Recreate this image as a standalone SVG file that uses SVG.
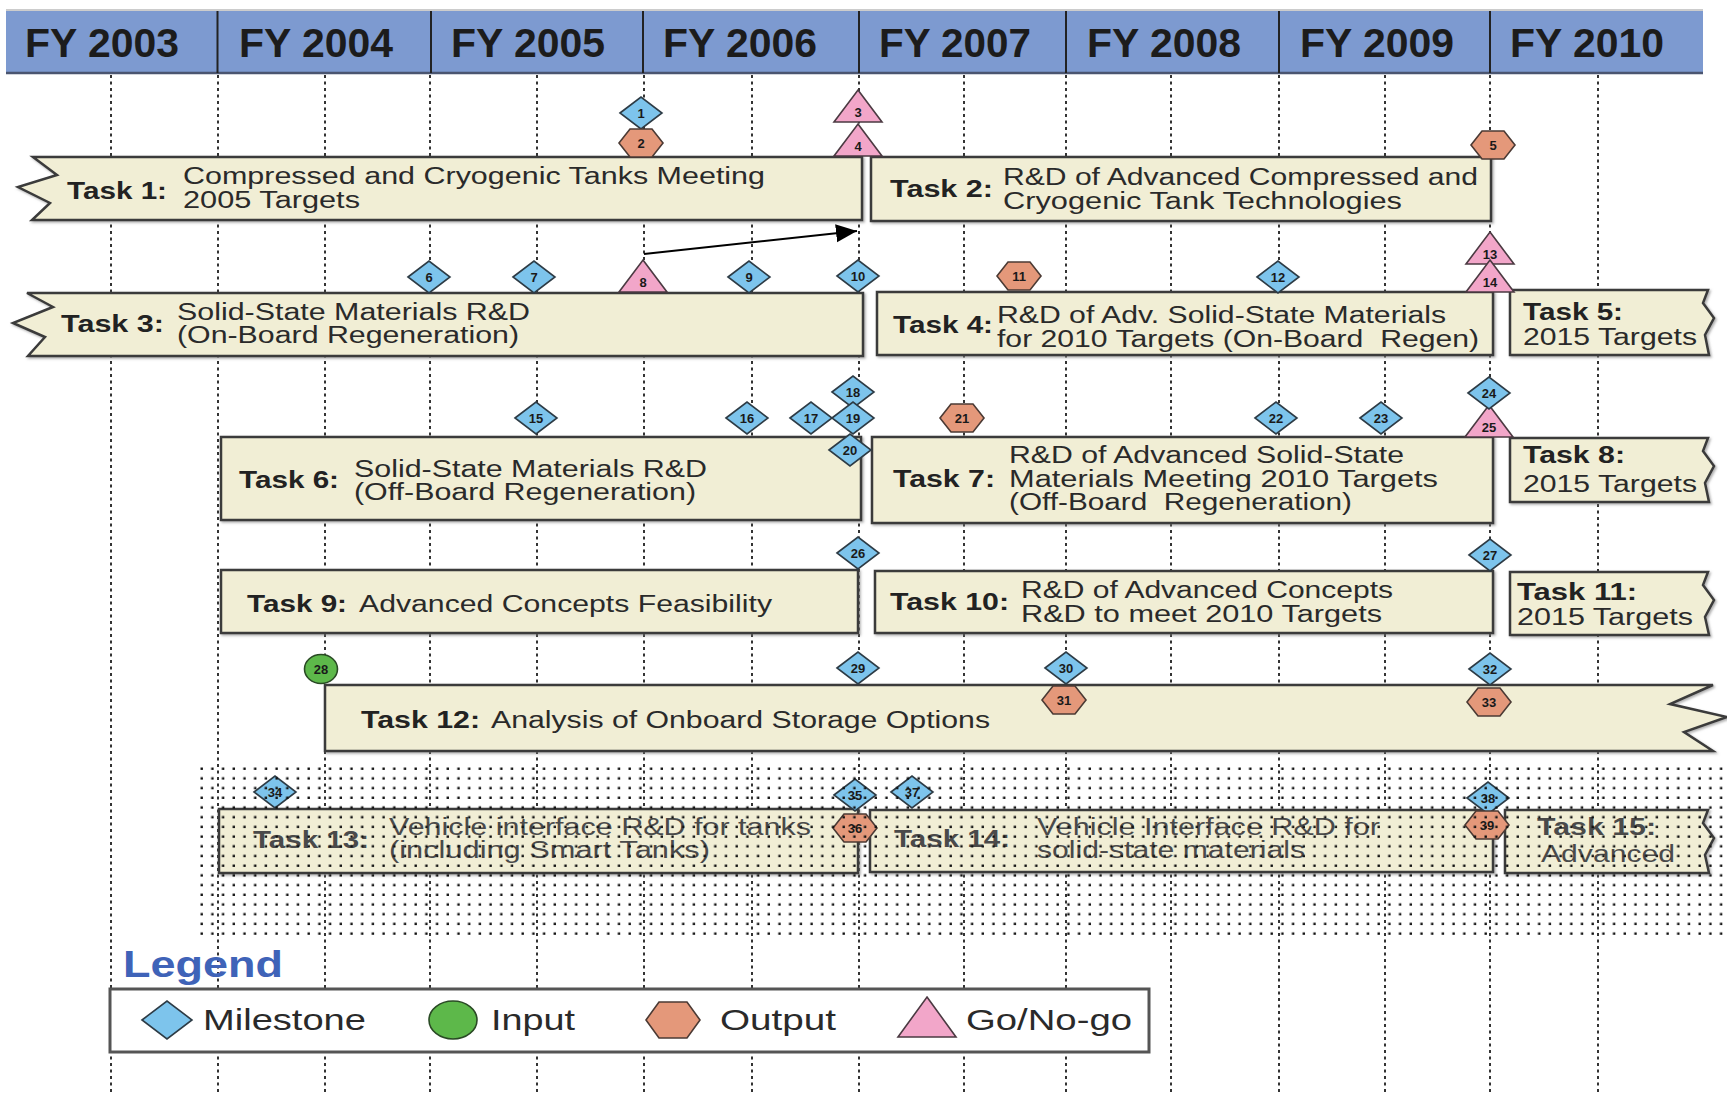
<svg xmlns="http://www.w3.org/2000/svg" width="1727" height="1094" viewBox="0 0 1727 1094">
<defs>
<style>
.hdr{fill:#7d9ad0}
.fy{font-family:"Liberation Sans Narrow","Liberation Sans",Arial,sans-serif;font-weight:bold;font-size:41px;fill:#1c1c1c}
.grid line{stroke:#333;stroke-width:2;stroke-dasharray:3 3.5}
.box{fill:#f1eed5;stroke:#3a3a3a;stroke-width:2.5;filter:url(#sh)}
.lb{font-family:"Liberation Sans",Arial,sans-serif;font-weight:bold;font-size:23px;fill:#222}
.tx{font-family:"Liberation Sans",Arial,sans-serif;font-size:23px;fill:#2a2a2a}
.dim .lb,.dim .tx{fill:#4a4a4a}
.ms{fill:#7dc4ec;stroke:#2d3b45;stroke-width:1.6}
.out{fill:#e4987a;stroke:#4b3a34;stroke-width:1.6}
.gng{fill:#f2a6c9;stroke:#4b3a42;stroke-width:1.6}
.inp{fill:#5db84a;stroke:#2a4a25;stroke-width:1.6}
.num{font-family:"Liberation Sans",Arial,sans-serif;font-weight:bold;font-size:13px;fill:#1a1a1a;text-anchor:middle}
.lg{font-family:"Liberation Sans",Arial,sans-serif;font-size:30px;fill:#2a2a2a}
</style>
<filter id="sh" x="-2%" y="-10%" width="105%" height="125%">
<feDropShadow dx="1.5" dy="1.5" stdDeviation="1" flood-color="#777" flood-opacity="0.6"/>
</filter>
<polygon id="dia" points="-21,0 0,-16 21,0 0,16"/>
<polygon id="hex" points="-22,0 -11,-14 11,-14 22,0 11,14 -11,14"/>
<polygon id="tri" points="0,0 24,32 -24,32"/>
<marker id="ah" markerUnits="userSpaceOnUse" markerWidth="22" markerHeight="20" refX="21" refY="9" orient="auto">
<path d="M0,0 L21,9 L0,18 Z" fill="#000"/>
</marker>
<pattern id="dots" patternUnits="userSpaceOnUse" x="200" y="767" width="10.7" height="9.7">
<rect x="0.5" y="0.5" width="2.4" height="2.4" fill="#111"/>
</pattern>
</defs>

<rect width="1727" height="1094" fill="#fff"/>

<g id="header">
<line x1="6" y1="10" x2="1703" y2="10" stroke="#bbb" stroke-width="1.5"/>
<rect class="hdr" x="6" y="11" width="1697" height="62"/>
<line x1="6" y1="73" x2="1703" y2="73" stroke="#4a5570" stroke-width="2.5"/>
<g stroke="#222" stroke-width="2">
<line x1="217.5" y1="11" x2="217.5" y2="73"/>
<line x1="431" y1="11" x2="431" y2="73"/>
<line x1="643" y1="11" x2="643" y2="73"/>
<line x1="859" y1="11" x2="859" y2="73"/>
<line x1="1066" y1="11" x2="1066" y2="73"/>
<line x1="1279" y1="11" x2="1279" y2="73"/>
<line x1="1490" y1="11" x2="1490" y2="73"/>
</g>
<text class="fy" x="25" y="57" textLength="154" lengthAdjust="spacingAndGlyphs">FY 2003</text>
<text class="fy" x="239" y="57" textLength="154" lengthAdjust="spacingAndGlyphs">FY 2004</text>
<text class="fy" x="451" y="57" textLength="154" lengthAdjust="spacingAndGlyphs">FY 2005</text>
<text class="fy" x="663" y="57" textLength="154" lengthAdjust="spacingAndGlyphs">FY 2006</text>
<text class="fy" x="879" y="57" textLength="152" lengthAdjust="spacingAndGlyphs">FY 2007</text>
<text class="fy" x="1087" y="57" textLength="154" lengthAdjust="spacingAndGlyphs">FY 2008</text>
<text class="fy" x="1300" y="57" textLength="154" lengthAdjust="spacingAndGlyphs">FY 2009</text>
<text class="fy" x="1510" y="57" textLength="154" lengthAdjust="spacingAndGlyphs">FY 2010</text>
</g>

<g id="grid" class="grid">
<line x1="111" y1="75" x2="111" y2="1094"/>
<line x1="218" y1="75" x2="218" y2="1094"/>
<line x1="325" y1="75" x2="325" y2="1094"/>
<line x1="430" y1="75" x2="430" y2="1094"/>
<line x1="537" y1="75" x2="537" y2="1094"/>
<line x1="644" y1="75" x2="644" y2="1094"/>
<line x1="752" y1="75" x2="752" y2="1094"/>
<line x1="859" y1="75" x2="859" y2="1094"/>
<line x1="964" y1="75" x2="964" y2="1094"/>
<line x1="1066" y1="75" x2="1066" y2="1094"/>
<line x1="1171" y1="75" x2="1171" y2="1094"/>
<line x1="1279" y1="75" x2="1279" y2="1094"/>
<line x1="1385" y1="75" x2="1385" y2="1094"/>
<line x1="1490" y1="75" x2="1490" y2="1094"/>
<line x1="1598" y1="75" x2="1598" y2="1094"/>
</g>

<g id="task1">
<path class="box" d="M33,157 L862,157 L862,220 L32,220 L50,203 L18,187 L57,175 Z"/>
<text class="lb" x="67" y="199" textLength="100" lengthAdjust="spacingAndGlyphs">Task 1:</text>
<text class="tx" x="183" y="184" textLength="582" lengthAdjust="spacingAndGlyphs">Compressed and Cryogenic Tanks Meeting</text>
<text class="tx" x="183" y="208" textLength="177" lengthAdjust="spacingAndGlyphs">2005 Targets</text>
</g>
<g id="task2">
<rect class="box" x="871" y="157" width="620" height="64"/>
<text class="lb" x="890" y="197" textLength="103" lengthAdjust="spacingAndGlyphs">Task 2:</text>
<text class="tx" x="1003" y="185" textLength="475" lengthAdjust="spacingAndGlyphs">R&amp;D of Advanced Compressed and</text>
<text class="tx" x="1003" y="209" textLength="399" lengthAdjust="spacingAndGlyphs">Cryogenic Tank Technologies</text>
</g>
<g id="task3">
<path class="box" d="M27,293 L863,293 L863,356 L28,356 L45,337 L13,323 L53,307 Z"/>
<text class="lb" x="61" y="332" textLength="103" lengthAdjust="spacingAndGlyphs">Task 3:</text>
<text class="tx" x="177" y="320" textLength="353" lengthAdjust="spacingAndGlyphs">Solid-State Materials R&amp;D</text>
<text class="tx" x="177" y="343" textLength="342" lengthAdjust="spacingAndGlyphs">(On-Board Regeneration)</text>
</g>
<g id="task4">
<rect class="box" x="877" y="292" width="616" height="63"/>
<text class="lb" x="893" y="333" textLength="100" lengthAdjust="spacingAndGlyphs">Task 4:</text>
<text class="tx" x="997" y="323" textLength="449" lengthAdjust="spacingAndGlyphs">R&amp;D of Adv. Solid-State Materials</text>
<text class="tx" x="997" y="347" textLength="482" lengthAdjust="spacingAndGlyphs" xml:space="preserve">for 2010 Targets (On-Board  Regen)</text>
</g>
<g id="task5">
<path class="box" d="M1510,290 L1708,290 L1703,303 L1714,318 L1705,335 L1709,355 L1510,355 Z"/>
<text class="lb" x="1523" y="320" textLength="100" lengthAdjust="spacingAndGlyphs">Task 5:</text>
<text class="tx" x="1523" y="345" textLength="174" lengthAdjust="spacingAndGlyphs">2015 Targets</text>
</g>
<g id="task6">
<rect class="box" x="221" y="437" width="640" height="83"/>
<text class="lb" x="239" y="488" textLength="100" lengthAdjust="spacingAndGlyphs">Task 6:</text>
<text class="tx" x="354" y="477" textLength="353" lengthAdjust="spacingAndGlyphs">Solid-State Materials R&amp;D</text>
<text class="tx" x="354" y="500" textLength="342" lengthAdjust="spacingAndGlyphs">(Off-Board Regeneration)</text>
</g>
<g id="task7">
<rect class="box" x="872" y="437" width="621" height="86"/>
<text class="lb" x="893" y="487" textLength="102" lengthAdjust="spacingAndGlyphs">Task 7:</text>
<text class="tx" x="1009" y="463" textLength="395" lengthAdjust="spacingAndGlyphs">R&amp;D of Advanced Solid-State</text>
<text class="tx" x="1009" y="487" textLength="429" lengthAdjust="spacingAndGlyphs">Materials Meeting 2010 Targets</text>
<text class="tx" x="1009" y="510" textLength="343" lengthAdjust="spacingAndGlyphs" xml:space="preserve">(Off-Board  Regeneration)</text>
</g>
<g id="task8">
<path class="box" d="M1510,438 L1708,438 L1703,451 L1714,466 L1705,483 L1709,502 L1510,502 Z"/>
<text class="lb" x="1523" y="463" textLength="102" lengthAdjust="spacingAndGlyphs">Task 8:</text>
<text class="tx" x="1523" y="492" textLength="174" lengthAdjust="spacingAndGlyphs">2015 Targets</text>
</g>
<g id="task9">
<rect class="box" x="221" y="570" width="637" height="63"/>
<text class="lb" x="247" y="612" textLength="100" lengthAdjust="spacingAndGlyphs">Task 9:</text>
<text class="tx" x="359" y="612" textLength="413" lengthAdjust="spacingAndGlyphs">Advanced Concepts Feasibility</text>
</g>
<g id="task10">
<rect class="box" x="875" y="571" width="618" height="62"/>
<text class="lb" x="890" y="610" textLength="119" lengthAdjust="spacingAndGlyphs">Task 10:</text>
<text class="tx" x="1021" y="598" textLength="372" lengthAdjust="spacingAndGlyphs">R&amp;D of Advanced Concepts</text>
<text class="tx" x="1021" y="622" textLength="361" lengthAdjust="spacingAndGlyphs">R&amp;D to meet 2010 Targets</text>
</g>
<g id="task11">
<path class="box" d="M1510,572 L1708,572 L1703,585 L1714,600 L1705,617 L1709,635 L1510,635 Z"/>
<text class="lb" x="1517" y="600" textLength="120" lengthAdjust="spacingAndGlyphs">Task 11:</text>
<text class="tx" x="1517" y="625" textLength="176" lengthAdjust="spacingAndGlyphs">2015 Targets</text>
</g>
<g id="task12">
<path class="box" d="M325,685 L1713,685 L1670,704 L1727,717 L1684,732 L1713,751 L325,751 Z"/>
<text class="lb" x="361" y="728" textLength="119" lengthAdjust="spacingAndGlyphs">Task 12:</text>
<text class="tx" x="491" y="728" textLength="499" lengthAdjust="spacingAndGlyphs">Analysis of Onboard Storage Options</text>
</g>
<g id="task13" class="dim">
<rect class="box" x="219" y="809" width="639" height="64"/>
<text class="lb" x="253" y="848" textLength="116" lengthAdjust="spacingAndGlyphs">Task 13:</text>
<text class="tx" x="389" y="835" textLength="422" lengthAdjust="spacingAndGlyphs">Vehicle interface R&amp;D for tanks</text>
<text class="tx" x="389" y="858" textLength="321" lengthAdjust="spacingAndGlyphs">(including Smart Tanks)</text>
</g>
<g id="task14" class="dim">
<rect class="box" x="870" y="810" width="623" height="62"/>
<text class="lb" x="894" y="847" textLength="116" lengthAdjust="spacingAndGlyphs">Task 14:</text>
<text class="tx" x="1037" y="835" textLength="343" lengthAdjust="spacingAndGlyphs">Vehicle Interface R&amp;D for</text>
<text class="tx" x="1037" y="858" textLength="268" lengthAdjust="spacingAndGlyphs">solid-state materials</text>
</g>
<g id="task15" class="dim">
<path class="box" d="M1505,810 L1708,810 L1703,823 L1714,838 L1705,855 L1709,873 L1505,873 Z"/>
<text class="lb" x="1537" y="835" textLength="119" lengthAdjust="spacingAndGlyphs">Task 15:</text>
<text class="tx" x="1541" y="862" textLength="134" lengthAdjust="spacingAndGlyphs">Advanced</text>
</g>

<g id="connectors">
<line x1="644" y1="254" x2="857" y2="231" stroke="#000" stroke-width="2" marker-end="url(#ah)"/>
</g>

<g id="markers">
<g id="m1"><use href="#dia" class="ms" x="641" y="113"/><text class="num" x="641" y="118">1</text></g>
<g id="m2"><use href="#hex" class="out" x="641" y="143"/><text class="num" x="641" y="148">2</text></g>
<g id="m3"><use href="#tri" class="gng" x="858" y="90"/><text class="num" x="858" y="117">3</text></g>
<g id="m4"><use href="#tri" class="gng" x="858" y="124"/><text class="num" x="858" y="151">4</text></g>
<g id="m5"><use href="#hex" class="out" x="1493" y="145"/><text class="num" x="1493" y="150">5</text></g>
<g id="m6"><use href="#dia" class="ms" x="429" y="277"/><text class="num" x="429" y="282">6</text></g>
<g id="m7"><use href="#dia" class="ms" x="534" y="277"/><text class="num" x="534" y="282">7</text></g>
<g id="m8"><use href="#tri" class="gng" x="643" y="260"/><text class="num" x="643" y="287">8</text></g>
<g id="m9"><use href="#dia" class="ms" x="749" y="277"/><text class="num" x="749" y="282">9</text></g>
<g id="m10"><use href="#dia" class="ms" x="858" y="276"/><text class="num" x="858" y="281">10</text></g>
<g id="m11"><use href="#hex" class="out" x="1019" y="276"/><text class="num" x="1019" y="281">11</text></g>
<g id="m12"><use href="#dia" class="ms" x="1278" y="277"/><text class="num" x="1278" y="282">12</text></g>
<g id="m13"><use href="#tri" class="gng" x="1490" y="232"/><text class="num" x="1490" y="259">13</text></g>
<g id="m14"><use href="#tri" class="gng" x="1490" y="260"/><text class="num" x="1490" y="287">14</text></g>
<g id="m15"><use href="#dia" class="ms" x="536" y="418"/><text class="num" x="536" y="423">15</text></g>
<g id="m16"><use href="#dia" class="ms" x="747" y="418"/><text class="num" x="747" y="423">16</text></g>
<g id="m17"><use href="#dia" class="ms" x="811" y="418"/><text class="num" x="811" y="423">17</text></g>
<g id="m18"><use href="#dia" class="ms" x="853" y="392"/><text class="num" x="853" y="397">18</text></g>
<g id="m19"><use href="#dia" class="ms" x="853" y="418"/><text class="num" x="853" y="423">19</text></g>
<g id="m20"><use href="#dia" class="ms" x="850" y="450"/><text class="num" x="850" y="455">20</text></g>
<g id="m21"><use href="#hex" class="out" x="962" y="418"/><text class="num" x="962" y="423">21</text></g>
<g id="m22"><use href="#dia" class="ms" x="1276" y="418"/><text class="num" x="1276" y="423">22</text></g>
<g id="m23"><use href="#dia" class="ms" x="1381" y="418"/><text class="num" x="1381" y="423">23</text></g>
<g id="m25"><use href="#tri" class="gng" x="1489" y="405"/><text class="num" x="1489" y="432">25</text></g>
<g id="m24"><use href="#dia" class="ms" x="1489" y="393"/><text class="num" x="1489" y="398">24</text></g>
<g id="m26"><use href="#dia" class="ms" x="858" y="553"/><text class="num" x="858" y="558">26</text></g>
<g id="m27"><use href="#dia" class="ms" x="1490" y="555"/><text class="num" x="1490" y="560">27</text></g>
<g id="m28"><ellipse class="inp" cx="321" cy="669" rx="16.5" ry="14.5"/><text class="num" x="321" y="674">28</text></g>
<g id="m29"><use href="#dia" class="ms" x="858" y="668"/><text class="num" x="858" y="673">29</text></g>
<g id="m30"><use href="#dia" class="ms" x="1066" y="668"/><text class="num" x="1066" y="673">30</text></g>
<g id="m31"><use href="#hex" class="out" x="1064" y="700"/><text class="num" x="1064" y="705">31</text></g>
<g id="m32"><use href="#dia" class="ms" x="1490" y="669"/><text class="num" x="1490" y="674">32</text></g>
<g id="m33"><use href="#hex" class="out" x="1489" y="702"/><text class="num" x="1489" y="707">33</text></g>
<g id="m34"><use href="#dia" class="ms" x="275" y="792"/><text class="num" x="275" y="797">34</text></g>
<g id="m35"><use href="#dia" class="ms" x="855" y="795"/><text class="num" x="855" y="800">35</text></g>
<g id="m36"><use href="#hex" class="out" x="855" y="828"/><text class="num" x="855" y="833">36</text></g>
<g id="m37"><use href="#dia" class="ms" x="912" y="792"/><text class="num" x="912" y="797">37</text></g>
<g id="m38"><use href="#dia" class="ms" x="1488" y="798"/><text class="num" x="1488" y="803">38</text></g>
<g id="m39"><use href="#hex" class="out" x="1487" y="825"/><text class="num" x="1487" y="830">39</text></g>
</g>

<rect id="dotted-area" x="198" y="766" width="1529" height="172" fill="url(#dots)"/>

<g id="legend">
<text x="123" y="977" font-family="Liberation Sans, Arial, sans-serif" font-weight="bold" font-size="37" fill="#3f63b8" textLength="160" lengthAdjust="spacingAndGlyphs">Legend</text>
<rect x="110" y="989" width="1039" height="63" fill="#fff" stroke="#555" stroke-width="3"/>
<polygon class="ms" points="142,1020 167,1001 192,1020 167,1039"/>
<text class="lg" x="203" y="1030" textLength="163" lengthAdjust="spacingAndGlyphs">Milestone</text>
<ellipse class="inp" cx="453" cy="1020" rx="24" ry="19"/>
<text class="lg" x="491" y="1030" textLength="84" lengthAdjust="spacingAndGlyphs">Input</text>
<polygon class="out" points="646,1020 659,1002 687,1002 700,1020 687,1038 659,1038"/>
<text class="lg" x="720" y="1030" textLength="116" lengthAdjust="spacingAndGlyphs">Output</text>
<polygon class="gng" points="927,997 956,1037 898,1037"/>
<text class="lg" x="966" y="1030" textLength="166" lengthAdjust="spacingAndGlyphs">Go/No-go</text>
</g>
</svg>
